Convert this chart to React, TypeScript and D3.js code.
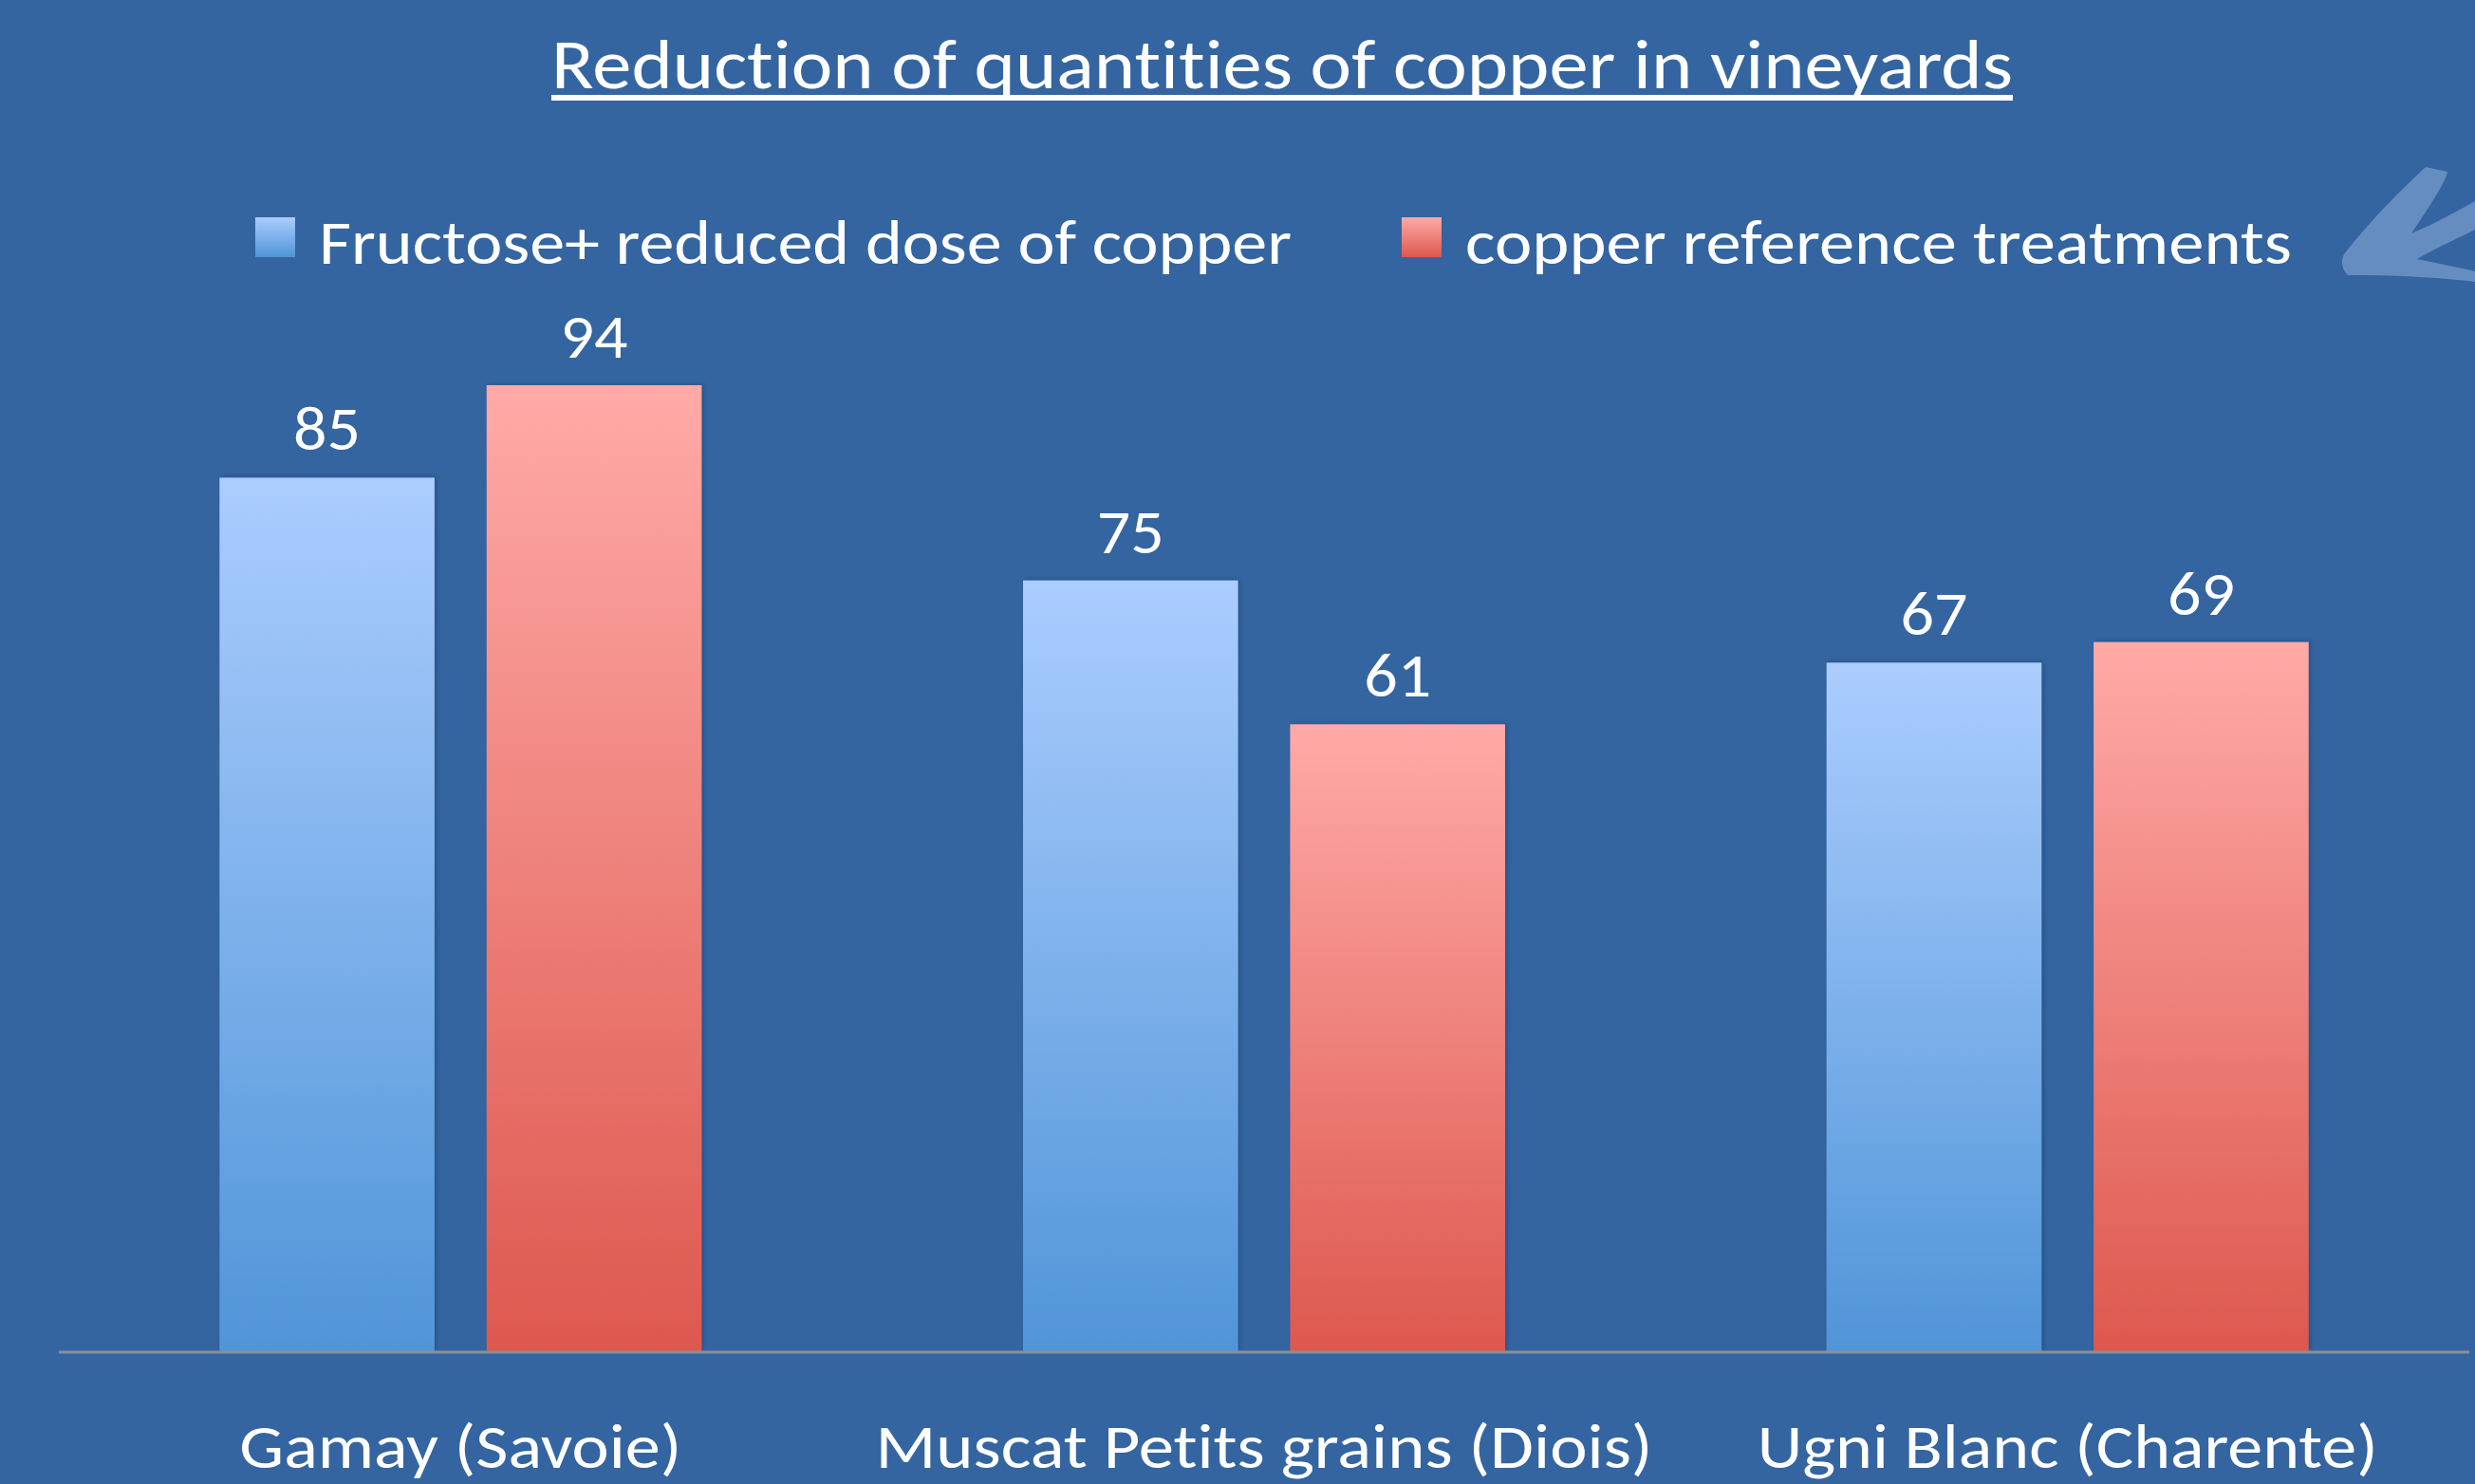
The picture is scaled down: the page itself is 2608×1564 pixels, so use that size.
import React from 'react';
import * as d3 from 'd3';

// ── Data ──────────────────────────────────────────────────────────────────────
const categories = ['Gamay (Savoie)', 'Muscat Petits grains (Diois)', 'Ugni Blanc (Charente)'];
const seriesNames = ['Fructose+ reduced dose of copper', 'copper reference treatments'];
const fructoseValues = [85, 75, 67];
const referenceValues = [94, 61, 69];
const titleText = 'Reduction of quantities of copper in vineyards';

// measured text widths in the reference (Calibri), used to keep layout
const categoryWidths = [466, 819, 654];
const legendWidths = [1025, 871];

const W = 2608;
const H = 1564;
const BG = '#3465a0';
const FONT = 'Carlito, Lato, "Open Sans", sans-serif';

const PLOT = { left: 62, right: 2602, top: 341, bottom: 1424 };

const seriesColors = [
  { top: '#abcdfe', bottom: '#5095d8' },
  { top: '#ffaaa7', bottom: '#dd584e' },
];

export default function App() {
  const x0 = d3
    .scaleBand()
    .domain(categories)
    .range([PLOT.left, PLOT.right])
    .paddingInner(0.4)
    .paddingOuter(0.2);

  const x1 = d3
    .scaleBand()
    .domain(seriesNames)
    .range([0, x0.bandwidth()])
    .paddingInner(0.195);

  const y = d3.scaleLinear().domain([0, 100]).range([PLOT.bottom, PLOT.top]);

  const values = [fructoseValues, referenceValues];

  return (
    <div style={{ position: 'absolute', left: 0, top: 0, width: W, height: H, overflow: 'hidden' }}>
      <svg
        width={W}
        height={H}
        style={{
          display: 'block',
          fontFamily: FONT,
          fontVariantLigatures: 'none',
          fontFeatureSettings: '"liga" 0, "clig" 0',
        }}
      >
        <defs>
          {seriesColors.map((c, i) => (
            <linearGradient key={i} id={`grad${i}`} x1="0" y1="0" x2="0" y2="1">
              <stop offset="0%" stopColor={c.top} />
              <stop offset="100%" stopColor={c.bottom} />
            </linearGradient>
          ))}
          <filter id="shadow" x="-10%" y="-10%" width="120%" height="120%">
            <feDropShadow dx="2" dy="-1" stdDeviation="2" floodColor="#1d3c63" floodOpacity="0.45" />
          </filter>
        </defs>

        <rect width={W} height={H} fill={BG} />

        {/* Title */}
        <text
          x={1351}
          y={93}
          textAnchor="middle"
          fontSize={74}
          fill="#fff"
          textLength={1540}
          lengthAdjust="spacingAndGlyphs"
        >
          {titleText}
        </text>
        <rect x={581} y={100} width={1540} height={6} fill="#fff" />

        {/* Legend */}
        {seriesNames.map((name, i) => {
          const sx = i === 0 ? 269 : 1477;
          return (
            <g key={name}>
              <rect x={sx} y={229} width={42} height={42} fill={`url(#grad${i})`} />
              <text
                x={sx + 67}
                y={278}
                fontSize={65}
                fill="#fff"
                textLength={legendWidths[i]}
                lengthAdjust="spacingAndGlyphs"
              >
                {name}
              </text>
            </g>
          );
        })}

        {/* Decorative brush arrow */}
        <path
          d="M2470,268 C2495,235 2530,200 2556,176 L2579,181 C2578,190 2562,215 2541,246 C2565,236 2590,222 2608,212 L2608,242 C2588,252 2566,262 2547,273 C2570,278 2592,282 2608,286 L2608,297 C2570,292 2520,290 2474,290 C2468,284 2466,276 2470,268 Z"
          fill="#7094c4"
          opacity={0.85}
        />

        {/* Bars */}
        {categories.map((cat, ci) => (
          <g key={cat} transform={`translate(${x0(cat)},0)`}>
            {seriesNames.map((s, si) => {
              const v = values[si][ci];
              const bx = x1(s) ?? 0;
              const bw = x1.bandwidth();
              return (
                <g key={s}>
                  <rect
                    x={bx}
                    y={y(v)}
                    width={bw}
                    height={y(0) - y(v)}
                    fill={`url(#grad${si})`}
                    filter="url(#shadow)"
                  />
                  <text
                    x={bx + bw / 2}
                    y={y(v) - 29}
                    textAnchor="middle"
                    fontSize={65}
                    fill="#fff"
                    textLength={71}
                    lengthAdjust="spacingAndGlyphs"
                  >
                    {v}
                  </text>
                </g>
              );
            })}
          </g>
        ))}

        {/* Baseline */}
        <line x1={PLOT.left} x2={PLOT.right} y1={y(0) + 1} y2={y(0) + 1} stroke="#8a8f98" strokeWidth={3} />

        {/* Category labels */}
        {categories.map((cat, ci) => (
          <text
            key={cat}
            x={(x0(cat) ?? 0) + x0.bandwidth() / 2}
            y={1547}
            textAnchor="middle"
            fontSize={65}
            fill="#fff"
            textLength={categoryWidths[ci]}
            lengthAdjust="spacingAndGlyphs"
          >
            {cat}
          </text>
        ))}
      </svg>
    </div>
  );
}
